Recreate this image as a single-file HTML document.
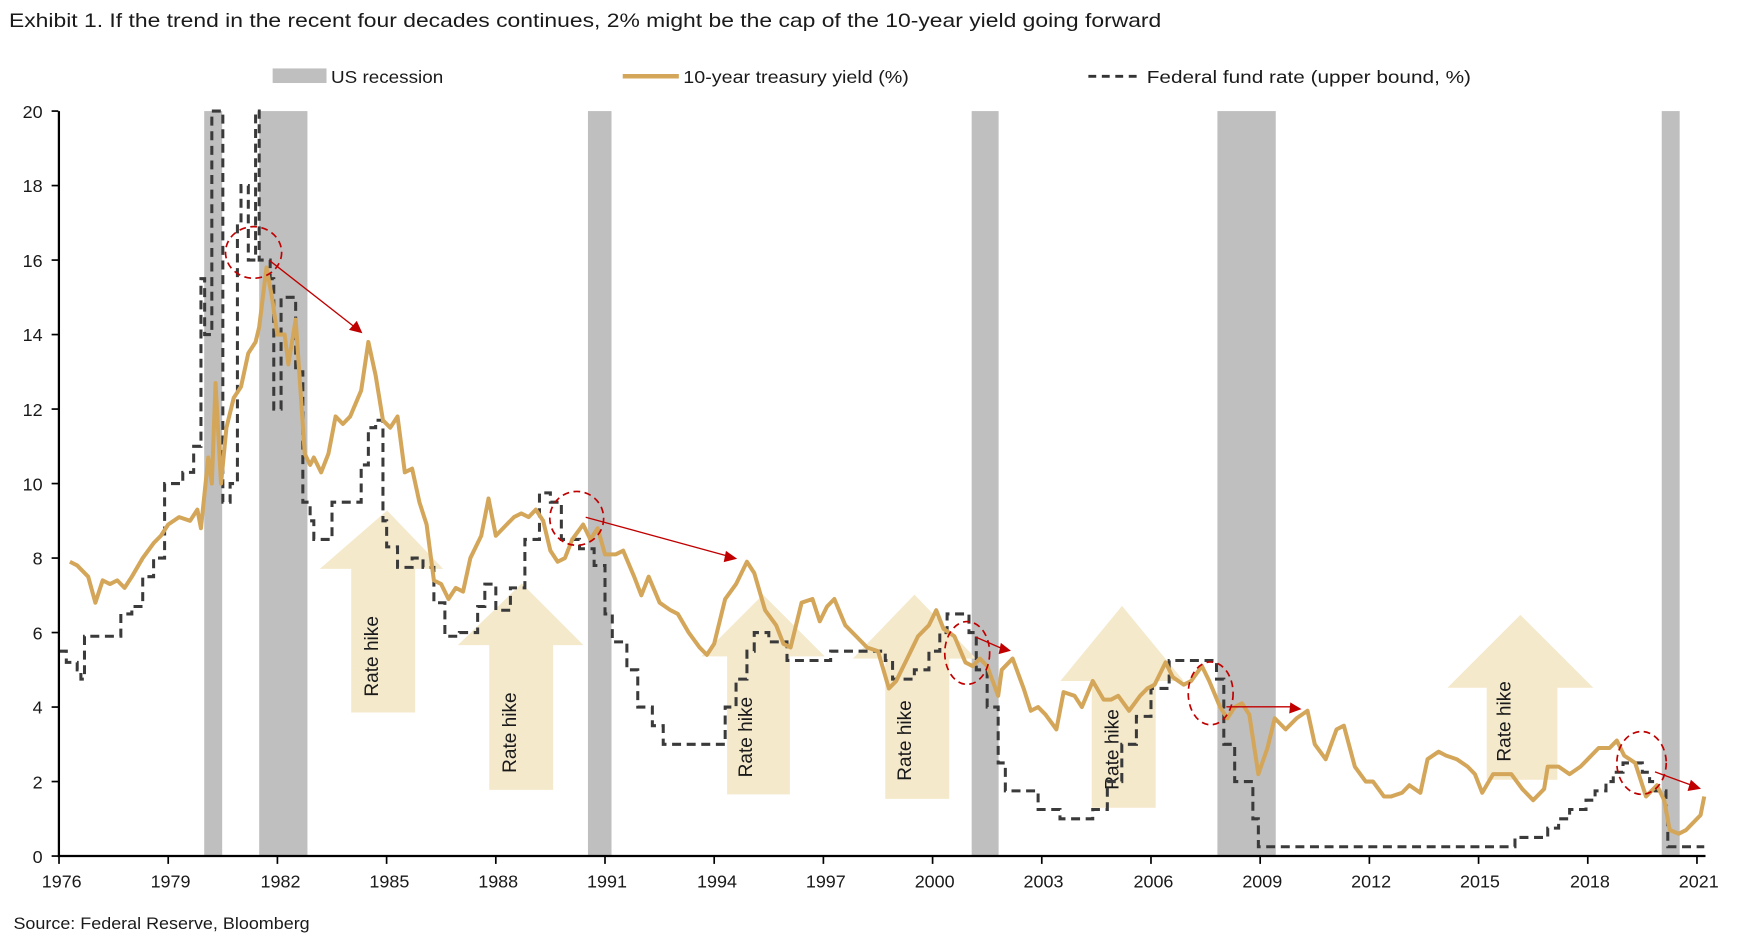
<!DOCTYPE html>
<html><head><meta charset="utf-8"><style>
html,body{margin:0;padding:0;background:#fff;}
svg{display:block;}
text{font-family:"Liberation Sans",sans-serif;fill:#1a1a1a;}
</style></head><body>
<svg id="s" width="1758" height="943" viewBox="0 0 1566.8 840.5" preserveAspectRatio="none" xmlns="http://www.w3.org/2000/svg">
<text x="8" y="24" font-size="17" textLength="1027" lengthAdjust="spacingAndGlyphs">Exhibit 1. If the trend in the recent four decades continues, 2% might be the cap of the 10-year yield going forward</text>
<rect x="243" y="61" width="48" height="13" fill="#bfbfbf"/>
<text x="295" y="74" font-size="16" textLength="100" lengthAdjust="spacingAndGlyphs">US recession</text>
<line x1="555" y1="68" x2="605" y2="68" stroke="#d4a65a" stroke-width="4"/>
<text x="609" y="74" font-size="16" textLength="201" lengthAdjust="spacingAndGlyphs">10-year treasury yield (%)</text>
<line x1="970" y1="68" x2="1015" y2="68" stroke="#333" stroke-width="2.5" stroke-dasharray="7,5"/>
<text x="1022" y="74" font-size="16" textLength="289" lengthAdjust="spacingAndGlyphs">Federal fund rate (upper bound, %)</text>
<g fill="#bfbfbf">
<rect x="182" y="99" width="16" height="664"/>
<rect x="231" y="99" width="43" height="664"/>
<rect x="524" y="99" width="21" height="664"/>
<rect x="866" y="99" width="24" height="664"/>
<rect x="1085" y="99" width="52" height="664"/>
<rect x="1481" y="99" width="16" height="664"/>
</g>
<g fill="#f5e9cc">
<polygon points="345,455 395,507 370,507 370,635 313,635 313,507 285,507"/>
<polygon points="465,520 520,575 493,575 493,704 436,704 436,575 408,575"/>
<polygon points="680,530 735,585 704,585 704,708 648,708 648,585 625,585"/>
<polygon points="815,530 870,587 846,587 846,712 789,712 789,587 760,587"/>
<polygon points="1000,540 1055,607 1030,607 1030,720 973,720 973,607 945,607"/>
<polygon points="1355,548 1420,613 1388,613 1388,695 1325,695 1325,613 1290,613"/>
</g>
<g font-size="17">
<text transform="translate(337,585) rotate(-90)" text-anchor="middle">Rate hike</text>
<text transform="translate(460,653) rotate(-90)" text-anchor="middle">Rate hike</text>
<text transform="translate(670,657) rotate(-90)" text-anchor="middle">Rate hike</text>
<text transform="translate(812,660) rotate(-90)" text-anchor="middle">Rate hike</text>
<text transform="translate(997,668) rotate(-90)" text-anchor="middle">Rate hike</text>
<text transform="translate(1346,643) rotate(-90)" text-anchor="middle">Rate hike</text>
</g>
<path id="ff" fill="none" stroke="#3a3a3a" stroke-width="2.7" stroke-dasharray="8,5"/>
<path id="ty" fill="none" stroke="#d4a65a" stroke-width="3.6" stroke-linejoin="round"/>
<g fill="none" stroke="#c00000" stroke-width="1.5" stroke-dasharray="6,4">
<ellipse cx="226" cy="225" rx="25" ry="23"/>
<ellipse cx="514" cy="462" rx="24" ry="24"/>
<ellipse cx="862" cy="582" rx="20" ry="28"/>
<ellipse cx="1079" cy="618" rx="20" ry="28"/>
<ellipse cx="1463" cy="680" rx="22" ry="28"/>
</g>
<g stroke="#c00000" stroke-width="1.2">
<line x1="240" y1="232" x2="318" y2="293"/>
<line x1="522" y1="461" x2="650" y2="496"/>
<line x1="870" y1="568" x2="893" y2="578"/>
<line x1="1093" y1="630" x2="1152" y2="630"/>
<line x1="1475" y1="688" x2="1508" y2="700"/>
</g>
<g fill="#c00000">
<polygon points="323,297 311,294 318,286"/>
<polygon points="657,498 645,501 647,491"/>
<polygon points="901,580 890,583 892,573"/>
<polygon points="1160,632 1149,636 1150,626"/>
<polygon points="1516,703 1504,705 1507,695"/>
</g>
<g stroke="#000" stroke-width="2">
<line x1="52.5" y1="99" x2="52.5" y2="764"/>
<line x1="51.5" y1="763" x2="1520" y2="763"/>
</g>
<g id="ticks" stroke="#000" stroke-width="1.5"></g>
<g font-size="16" text-anchor="end">
<text x="38" y="769">0</text><text x="38" y="703">2</text><text x="38" y="636">4</text><text x="38" y="570">6</text><text x="38" y="503">8</text><text x="38" y="437">10</text><text x="38" y="371">12</text><text x="38" y="304">14</text><text x="38" y="238">16</text><text x="38" y="171">18</text><text x="38" y="105">20</text>
</g>
<g font-size="16" text-anchor="middle">
<text x="55" y="791">1976</text><text x="152" y="791">1979</text><text x="250" y="791">1982</text><text x="347" y="791">1985</text><text x="444" y="791">1988</text><text x="541" y="791">1991</text><text x="639" y="791">1994</text><text x="736" y="791">1997</text><text x="833" y="791">2000</text><text x="930" y="791">2003</text><text x="1028" y="791">2006</text><text x="1125" y="791">2009</text><text x="1222" y="791">2012</text><text x="1319" y="791">2015</text><text x="1417" y="791">2018</text><text x="1514" y="791">2021</text>
</g>
<text x="12" y="828" font-size="15" textLength="264" lengthAdjust="spacingAndGlyphs">Source: Federal Reserve, Bloomberg</text>
</svg>
<script>
function X(y){return 52.6+32.44*(y-1976);}
function Y(v){return 763-33.2*v;}
var ty=[1976.3,7.9,1976.5,7.8,1976.8,7.5,1977.0,6.8,1977.2,7.4,1977.4,7.3,1977.6,7.4,1977.8,7.2,1978.0,7.5,1978.3,8.0,1978.6,8.4,1978.8,8.6,1979.0,8.9,1979.3,9.1,1979.6,9.0,1979.8,9.3,1979.9,8.8,1980.1,10.7,1980.2,10.0,1980.3,12.7,1980.45,10.0,1980.6,11.5,1980.8,12.3,1981.0,12.6,1981.2,13.5,1981.4,13.8,1981.5,14.2,1981.7,15.8,1981.85,15.0,1982.0,14.0,1982.2,14.0,1982.3,13.2,1982.5,14.4,1982.6,13.0,1982.75,10.8,1982.9,10.5,1983.0,10.7,1983.2,10.3,1983.4,10.8,1983.6,11.8,1983.8,11.6,1984.0,11.8,1984.3,12.5,1984.5,13.8,1984.7,12.9,1984.9,11.7,1985.1,11.5,1985.3,11.8,1985.5,10.3,1985.7,10.4,1985.9,9.5,1986.1,8.9,1986.3,7.4,1986.5,7.3,1986.7,6.9,1986.9,7.2,1987.1,7.1,1987.3,8.0,1987.6,8.6,1987.8,9.6,1988.0,8.6,1988.3,8.9,1988.5,9.1,1988.7,9.2,1988.9,9.1,1989.1,9.3,1989.3,9.0,1989.5,8.2,1989.7,7.9,1989.9,8.0,1990.1,8.5,1990.4,8.9,1990.6,8.5,1990.8,8.8,1991.0,8.1,1991.3,8.1,1991.5,8.2,1991.8,7.5,1992.0,7.0,1992.2,7.5,1992.5,6.8,1992.8,6.6,1993.0,6.5,1993.3,6.0,1993.6,5.6,1993.8,5.4,1994.0,5.7,1994.3,6.9,1994.6,7.3,1994.9,7.9,1995.1,7.6,1995.4,6.6,1995.7,6.2,1995.9,5.7,1996.1,5.6,1996.4,6.8,1996.7,6.9,1996.9,6.3,1997.1,6.7,1997.3,6.9,1997.6,6.2,1997.9,5.9,1998.2,5.6,1998.5,5.5,1998.8,4.5,1999.0,4.7,1999.3,5.3,1999.6,5.9,1999.9,6.2,2000.1,6.6,2000.3,6.1,2000.6,5.9,2000.9,5.2,2001.1,5.1,2001.3,5.3,2001.5,5.1,2001.8,4.3,2001.9,5.0,2002.2,5.3,2002.5,4.5,2002.7,3.9,2002.9,4.0,2003.1,3.8,2003.4,3.4,2003.6,4.4,2003.9,4.3,2004.1,4.0,2004.4,4.7,2004.7,4.2,2004.9,4.2,2005.1,4.3,2005.4,3.9,2005.7,4.3,2005.9,4.5,2006.1,4.6,2006.4,5.2,2006.6,4.8,2006.9,4.6,2007.1,4.7,2007.4,5.1,2007.6,4.7,2007.9,4.0,2008.1,3.7,2008.3,4.0,2008.5,4.1,2008.7,3.8,2008.95,2.2,2009.2,2.9,2009.4,3.7,2009.7,3.4,2010.0,3.7,2010.3,3.9,2010.5,3.0,2010.8,2.6,2011.1,3.4,2011.3,3.5,2011.6,2.4,2011.9,2.0,2012.1,2.0,2012.4,1.6,2012.6,1.6,2012.9,1.7,2013.1,1.9,2013.4,1.7,2013.6,2.6,2013.9,2.8,2014.1,2.7,2014.4,2.6,2014.7,2.4,2014.9,2.2,2015.1,1.7,2015.4,2.2,2015.7,2.2,2015.9,2.2,2016.2,1.8,2016.5,1.5,2016.8,1.8,2016.9,2.4,2017.2,2.4,2017.5,2.2,2017.8,2.4,2018.0,2.6,2018.3,2.9,2018.6,2.9,2018.8,3.1,2019.0,2.7,2019.3,2.5,2019.6,1.6,2019.9,1.9,2020.1,1.5,2020.25,0.7,2020.5,0.6,2020.7,0.7,2020.9,0.9,2021.1,1.1,2021.2,1.6];
var ff=[1976.0,5.5,1976.2,5.2,1976.5,5.0,1976.6,4.75,1976.7,5.9,1977.5,5.9,1977.7,6.5,1978.0,6.7,1978.3,7.5,1978.6,8.0,1978.9,10.0,1979.4,10.3,1979.7,11.0,1979.9,15.5,1980.0,14.0,1980.2,20,1980.3,20,1980.5,9.5,1980.7,10,1980.9,17,1981.0,18,1981.2,16,1981.4,20,1981.5,16,1981.8,15.5,1981.9,12,1982.1,15,1982.3,15,1982.5,13,1982.7,9.5,1982.9,9.0,1983.0,8.5,1983.3,8.5,1983.5,9.5,1984.0,9.5,1984.3,10.5,1984.5,11.5,1984.7,11.7,1984.9,9.0,1985.0,8.3,1985.3,7.75,1985.7,8.0,1986.0,7.75,1986.3,6.8,1986.6,5.9,1987.0,6.0,1987.5,6.7,1987.7,7.3,1988.0,6.6,1988.4,7.2,1988.8,8.5,1989.2,9.75,1989.5,9.5,1989.8,8.5,1990.3,8.25,1990.7,7.8,1991.0,6.5,1991.2,5.75,1991.6,5.0,1991.9,4.0,1992.3,3.5,1992.6,3.0,1994.0,3.0,1994.3,4.0,1994.6,4.75,1994.9,5.5,1995.1,6.0,1995.5,5.75,1996.0,5.25,1997.2,5.5,1998.7,5.25,1998.9,4.75,1999.5,5.0,1999.9,5.5,2000.2,6.0,2000.4,6.5,2001.0,6.0,2001.2,5.0,2001.5,4.0,2001.8,2.5,2002.0,1.75,2002.9,1.25,2003.5,1.0,2004.4,1.25,2004.8,2.0,2005.2,3.0,2005.6,3.75,2006.0,4.5,2006.5,5.25,2007.6,5.25,2007.8,4.75,2008.0,3.0,2008.3,2.0,2008.8,1.0,2008.95,0.25,2015.95,0.25,2016.0,0.5,2016.9,0.75,2017.2,1.0,2017.5,1.25,2017.95,1.5,2018.2,1.75,2018.5,2.0,2018.7,2.25,2018.97,2.5,2019.5,2.25,2019.7,2.0,2019.85,1.75,2020.15,1.0,2020.2,0.25,2021.2,0.25];
function P(a){var d="";for(var i=0;i<a.length;i+=2){d+=(i?"L":"M")+X(a[i]).toFixed(1)+","+Y(a[i+1]).toFixed(1);}return d;}
function S(a){var d="M"+X(a[0]).toFixed(1)+","+Y(a[1]).toFixed(1);for(var i=2;i<a.length;i+=2){d+="H"+X(a[i]).toFixed(1)+"V"+Y(a[i+1]).toFixed(1);}return d;}
document.getElementById("ty").setAttribute("d",P(ty));
document.getElementById("ff").setAttribute("d",S(ff));
var t=document.getElementById("ticks"),s="";
for(var v=0;v<=20;v+=2){s+='<line x1="46" y1="'+Y(v)+'" x2="52" y2="'+Y(v)+'"/>';}
for(var y=1976;y<=2021;y+=3){s+='<line x1="'+X(y)+'" y1="763" x2="'+X(y)+'" y2="770"/>';}
t.innerHTML=s;
</script>
</body></html>
